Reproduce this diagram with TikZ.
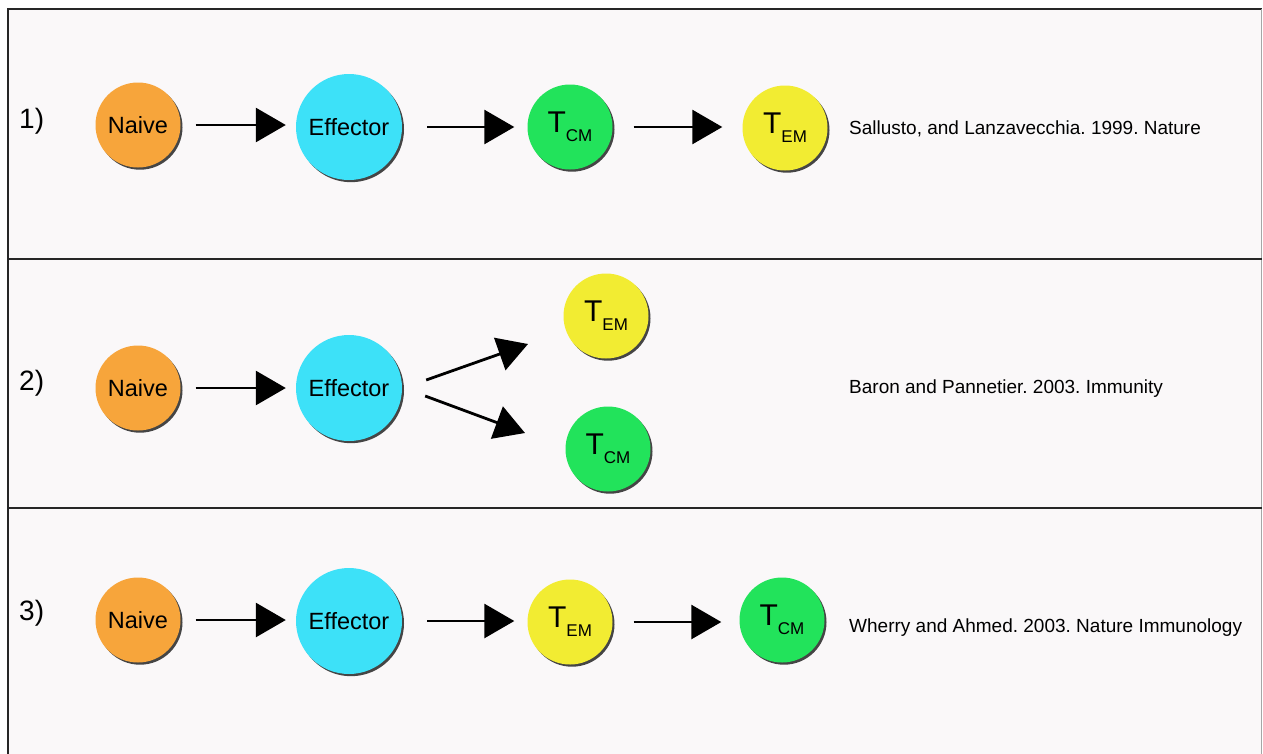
\documentclass[tikz,border=0pt]{standalone}
\usepackage{fontspec}
\setmainfont{Liberation Sans}
\usetikzlibrary{arrows.meta,shadows}
\definecolor{naivec}{HTML}{F7A53B}
\definecolor{effc}{HTML}{3DE1F8}
\definecolor{tcmc}{HTML}{22E35B}
\definecolor{temc}{HTML}{F2EC32}
\definecolor{bgc}{HTML}{FAF8F9}
\definecolor{framec}{HTML}{262626}
\frenchspacing
\newcommand{\Tsub}[1]{{\fontsize{30}{30}\selectfont T\raisebox{-9pt}{\fontsize{17}{17}\selectfont #1}}}
\begin{document}
\begin{tikzpicture}[x=1pt,y=-1pt,
  cell/.style={circle, inner sep=0pt, text=black,
    drop shadow={shadow xshift=2pt, shadow yshift=-2.2pt, opacity=0.85, fill=black!85}},
  naive/.style={cell, fill=naivec, minimum size=85pt, font=\fontsize{23.5}{28}\selectfont},
  eff/.style={cell, fill=effc, minimum size=106pt, font=\fontsize{23.5}{28}\selectfont},
  tcm/.style={cell, fill=tcmc, minimum size=85pt},
  tem/.style={cell, fill=temc, minimum size=85pt},
  arr/.style={-{Triangle[length=30pt,width=34pt]}, line width=2.8pt, black},
  cite/.style={anchor=base west, inner sep=0pt, font=\fontsize{19}{22}\selectfont},
  rowlab/.style={anchor=base west, inner sep=0pt, font=\fontsize{28}{30}\selectfont},
  sep/.style={line width=2.8pt, framec}
]
\useasboundingbox (0,0) rectangle (1263,753);
\clip (0,0) rectangle (1263,753);
\fill[white] (0,0) rectangle (1263,753);
\fill[bgc] (8,9) rectangle (1262,760);
\draw[sep] (8,770) -- (8,9) -- (1262,9);
\draw[gray!70, line width=1pt] (1261.5,9) -- (1261.5,770);
\draw[sep] (8,259) -- (1262,259);
\draw[sep] (8,508) -- (1262,508);

% Row 1
\node[rowlab] (L1) at (19,128) {1)};
\node[naive] (N1) at (138,125) {Naive};
\node[eff] (E1) at (349,127) {Effector};
\node[tcm] (C1) at (570,127) {\Tsub{CM}};
\node[tem] (M1) at (785,128) {\Tsub{EM}};
\node[cite] (R1) at (849,134) {Sallusto, and Lanzavecchia. 1999. Nature};
\draw[arr] ([xshift=15pt]N1.east) -- ([xshift=-10pt]E1.west |- N1.east);
\draw[arr] ([xshift=25pt]E1.east) -- ([xshift=-13pt]C1.west |- E1.east);
\draw[arr] ([xshift=21pt]C1.east) -- ([xshift=-20pt]M1.west |- C1.east);

% Row 2
\node[rowlab] (L2) at (19,390) {2)};
\node[naive] (N2) at (138,388) {Naive};
\node[eff] (E2) at (349,388) {Effector};
\node[tem] (M2) at (606,316) {\Tsub{EM}};
\node[tcm] (C2) at (608,449) {\Tsub{CM}};
\node[cite] (R2) at (849,393) {Baron and Pannetier. 2003. Immunity};
\draw[arr] ([xshift=15pt]N2.east) -- ([xshift=-10pt]E2.west |- N2.east);
\draw[arr] ([xshift=24pt,yshift=8pt]E2.east) -- ([xshift=-78pt,yshift=-28pt]M2.center);
\draw[arr] ([xshift=23pt,yshift=-8pt]E2.east) -- ([xshift=-83pt,yshift=16pt]C2.center);

% Row 3
\node[rowlab] (L3) at (19,620) {3)};
\node[naive] (N3) at (138,620) {Naive};
\node[eff] (E3) at (349,621) {Effector};
\node[tem] (M3) at (570,622) {\Tsub{EM}};
\node[tcm] (C3) at (782,620) {\Tsub{CM}};
\node[cite] (R3) at (849,632) {Wherry and Ahmed. 2003. Nature Immunology};
\draw[arr] ([xshift=15pt]N3.east) -- ([xshift=-10pt]E3.west |- N3.east);
\draw[arr] ([xshift=25pt]E3.east) -- ([xshift=-13pt]M3.west |- E3.east);
\draw[arr] ([xshift=21pt]M3.east) -- ([xshift=-18pt]C3.west |- M3.east);
\end{tikzpicture}
\end{document}
